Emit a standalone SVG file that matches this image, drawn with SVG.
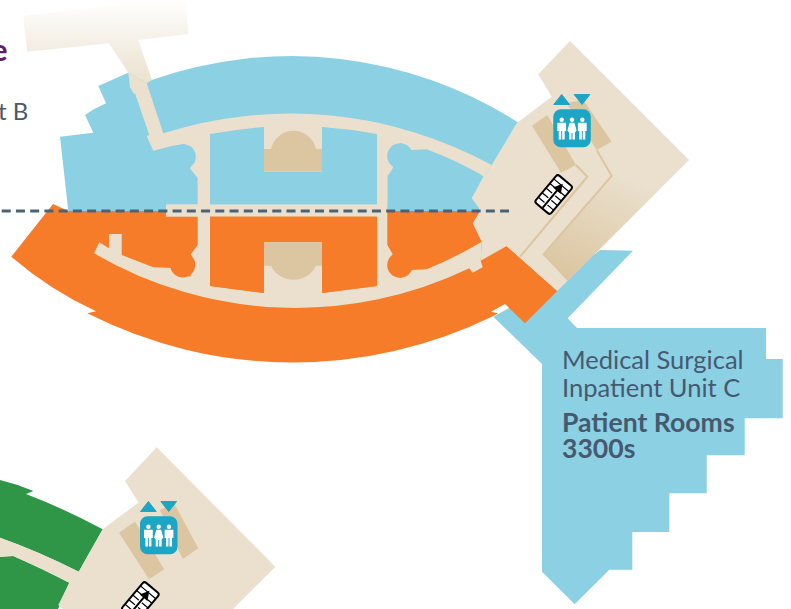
<svg xmlns="http://www.w3.org/2000/svg" width="791" height="609" viewBox="0 0 791 609">
<style>
.blue{fill:#8cd0e4}.orange{fill:#f67c2a}.green{fill:#2f9547}.beige{fill:#eae0cd}.tan{fill:#dcc6a1}
.edge{fill:none;stroke:#dcc6a1;stroke-width:2}
.t{font-family:"Lato","Open Sans",sans-serif;fill:#465a6f;font-size:25.5px}
.b{font-weight:700;font-size:26.6px}
.tile{fill:#1da5c6}.w{fill:#fff}
</style>
<defs>
<linearGradient id="fade" gradientUnits="userSpaceOnUse" x1="0" y1="0" x2="0" y2="85">
<stop offset="0" stop-color="#eae0cd" stop-opacity="0"/><stop offset="1" stop-color="#eae0cd"/>
</linearGradient>
<linearGradient id="shade" gradientUnits="userSpaceOnUse" x1="565" y1="275" x2="612" y2="170">
<stop offset="0" stop-color="#dcc6a1"/><stop offset="1" stop-color="#eae0cd"/>
</linearGradient>
<g id="person"><circle cx="0" cy="-8.7" r="2.2"/><path d="M-4.4,-5.8 H4.4 V2.5 H3 V11 H0.5 V2.5 H-0.5 V11 H-3 V2.5 H-4.4Z"/></g>
<g id="woman"><circle cx="0" cy="-8.7" r="2.2"/><path d="M-2.4,-5.8 H2.4 L4.6,2 L3,4 V11 H0.5 V4.5 H-0.5 V11 H-3 V4 L-4.6,2Z"/></g>
<g id="lift">
<rect class="tile" x="553.3" y="109.3" width="37.5" height="38" rx="7.5"/>
<path class="tile" stroke="#1da5c6" stroke-width="1" stroke-linejoin="round" d="M553.8,104.5 H569.5 L561.7,94.5Z M574.2,94.5 H589.8 L582,104.5Z"/>
<use href="#person" x="561.7" y="128.5" class="w"/><use href="#woman" x="572" y="128.5" class="w"/><use href="#person" x="582.3" y="128.5" class="w"/>
</g>
<g id="esc" transform="translate(553.7,194.5) rotate(-50)">
<rect x="-18" y="-10" width="36" height="20" rx="2.5" fill="#fff" stroke="#000" stroke-width="2"/>
<path d="M-12,-10 V10 M-6,-10 V10 M0,-10 V10 M6,-10 V10 M12,-10 V10" stroke="#000" stroke-width="1.2" fill="none"/>
<path d="M-16,0 H10" stroke="#fff" stroke-width="4"/>
<path d="M-17,0 H8" stroke="#000" stroke-width="2"/>
<path d="M14,0 L5,-5 V5Z"/>
</g>
</defs>

<g id="entrance"><path fill="url(#fade)" d="M23,16 L185,-3 L188.5,34 L138.3,40 L152,80 L146.7,84 L128.3,72.7 L109,43.3 L27.3,51.7Z"/></g>

<g id="unit-b"><path class="blue" d="M60,136.7 L93.3,132.7 L85,115 Q95,108 106,103.3 L98.3,86 L128.3,72.7 L146.7,83.3 L151.7,80 A420,420 0 0 1 519,123 L500,211 H68.3Z"/></g>

<g id="unit-c-wing"><path class="blue" d="M600,250 L633,250.7 L567.7,318.3 L577,328 H766 V359 H782.7 V418.3 H744.7 V455.3 H706.7 V493.3 H669.3 V532 H632.3 V569.7 H609.3 L574.7,604.3 L542,571.7 V364 L493.3,316.7 L560,280Z"/></g>

<g id="unit-a"><path class="orange" d="M11.3,256.7 L53,204 L68.3,211 H500 L506.7,246 L557.3,291 L525,323.3 L505,304 L491,311.7 L498,313.3 L493.3,316 A455,455 0 0 1 87.3,313.3 L96,311.3 Q50,290 11.3,256.7Z"/></g>

<g id="unit-d">
<path class="green" d="M0,480 Q17,484 33.3,491 L26,494 Q65,509 102.7,529.3 L78.7,571.7 Q40,552 0,537.7Z"/>
<path class="green" d="M0,556.7 L13.3,556 Q42,568 69.3,582.7 L58,609 H0Z"/>
</g>

<g id="core-b">
<path class="beige" d="M146.7,83.3 L163.3,133.3 A420,420 0 0 1 491.7,165 L483.3,176.7 L480,174 A420,420 0 0 0 426.7,149.3 L411.7,150 L400,143 L392.7,168.3 L387.3,176.7 V204.3 H210 V178.3 H197.7 L190,168.3 L195,160 L185,144 L171.7,146 L153.3,150.7 L146.7,136 L149.3,135 L135,93.3 L134,94 L130,87.3 L128.3,72.7Z"/>
<rect class="beige" x="376.7" y="130" width="10.6" height="160"/>
<rect class="beige" x="197.7" y="140" width="12.3" height="150"/>
<rect class="beige" x="166" y="204.3" width="221" height="12.4"/>
</g>
<g id="core-a">
<path class="beige" d="M109,234 H121.7 V255 L153.3,267.3 L171.7,268 L190,277 L195,262 L190.7,254.3 L197.7,245 H210 V286 L264,293 V242 H322 V293 L376.7,286 V245 H387.3 L392.7,254.3 L400,278 L411,270 L426.7,269.3 A400,400 0 0 0 481.7,241.7 L480.7,260.7 L482.7,267.3 L472.7,272.7 L469.3,268.3 A400,400 0 0 1 94,253.3 L99.3,242.3 L109,248.3Z"/>
</g>
<g id="building-c">
<path class="beige" d="M570,41 L689,160 L557.3,291 L506.7,246 L480.7,260.7 L481.7,241.7 L472.7,223.3 L479,213 L479,208 L471.7,198.3 L483.3,176.7 L491.7,165 L516.7,123.3 L551.7,96.7 L538.3,74.3Z"/>
<path fill="url(#shade)" d="M611.7,176 L650,165 L660,189 L567.7,281 L543,255Z"/>
<path class="tan" d="M532,125.7 L547.3,115 L576,165 L561,172.7Z M566.7,103 L583.3,100 L611.7,141.7 L596.7,150Z"/>
<path class="edge" d="M576,165 L587.3,176.7 L520,256.7 M596.7,150 L611.7,176 L543,255"/>
</g>

<g id="rooms">
<path class="blue" d="M210,134 Q237,129 264,127 V172 H322 V127 Q350,129 377,134 V204.3 H210Z"/>
<path class="tan" d="M264,149 H271 A23,23 0 0 1 316,149 H322 V171.7 H264Z"/>
<path class="orange" d="M210,216.7 H377 V286 L322,293 V242.3 H264 V293 L210,286Z"/>
<path class="tan" d="M264,242.3 H322 V265.7 H316 A25,25 0 0 1 271,265.7 H264Z"/>
<circle class="blue" cx="183.3" cy="156.7" r="12.5"/><circle class="blue" cx="400" cy="156" r="12.8"/>
<circle class="orange" cx="182.7" cy="265" r="12.5"/><circle class="orange" cx="400" cy="265" r="12.8"/>
</g>

<g id="building-d">
<path class="beige" d="M156.7,447.3 L275.3,566.7 L233,609 H63 L58.3,605 L69.3,582.7 Q40,568 13.3,556 L0,556.7 V537.7 Q40,552 78.7,571.7 L102.7,529.3 L138.5,502.5 L125,481Z"/>
<path class="tan" d="M119,532.7 L135,521.7 L164.3,569.3 L149,579.3Z M160,510 L174,503 L198.3,548.3 L182.7,559Z"/>
</g>

<g id="icons">
<use href="#lift"/><use href="#esc"/>
<use href="#lift" x="-413.3" y="407"/><use href="#esc" x="-413.3" y="407"/>
</g>

<g id="connectors"><path d="M1.7,211 H509" fill="none" stroke="#4a6277" stroke-width="3" stroke-dasharray="9 5.24"/></g>

<g id="labels">
<text x="-9" y="60.7" font-family="Lato,sans-serif" font-weight="700" font-size="31" fill="#5f1f6f">e</text>
<text x="-2" y="120" class="t" style="font-size:24px">t B</text>
<text class="t"><tspan x="562" y="369.3">Medical Surgical</tspan><tspan x="562" y="396.7">Inpatient Unit C</tspan></text>
<text class="t b"><tspan x="562" y="431.7">Patient Rooms</tspan><tspan x="562" y="457.7">3300s</tspan></text>
</g>
</svg>
